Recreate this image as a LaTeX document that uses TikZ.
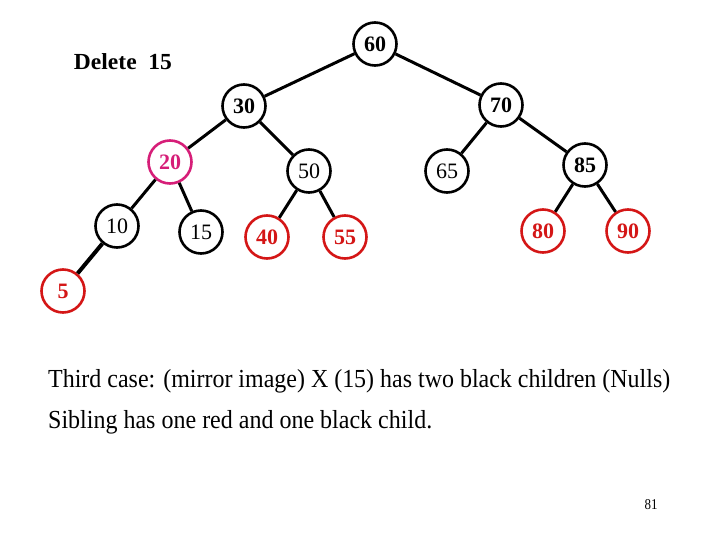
\documentclass[tikz,border=0pt]{standalone}
\usepackage{fontspec}
\setmainfont{Liberation Serif}
\definecolor{nodered}{RGB}{212,22,22}
\definecolor{nodemag}{RGB}{214,30,120}
\begin{document}
\begin{tikzpicture}[x=1pt,y=-1pt,
  tn/.style={circle,draw=black,line width=2.6pt,minimum size=43pt,inner sep=0pt,
    font=\fontsize{22}{22}\selectfont\bfseries,text=black},
  tnr/.style={tn,font=\fontsize{22}{22}\selectfont},
  rn/.style={tn,draw=nodered,text=nodered},
  mn/.style={tn,draw=nodemag,text=nodemag},
  edge/.style={line width=3pt,black},
  txt/.style={font=\fontsize{26}{26}\selectfont,anchor=west,inner sep=0pt}]
\useasboundingbox (0,0) rectangle (720,540);
\node[tn] (n60) at (375,44) {60};
\node[tn] (n30) at (244,106) {30};
\node[tn] (n70) at (501,105) {70};
\node[mn] (n20) at (170,162) {20};
\node[tnr] (n50) at (309,171) {50};
\node[tnr] (n65) at (447,171) {65};
\node[tn] (n85) at (585,165) {85};
\node[tnr] (n10) at (117,226) {10};
\node[tnr] (n15) at (201,232) {15};
\node[rn] (n40) at (267,237) {40};
\node[rn] (n55) at (345,237) {55};
\node[rn] (n80) at (543,231) {80};
\node[rn] (n90) at (628,231) {90};
\node[rn] (n5) at (63,291) {5};
\draw[edge] (n60) -- (n30);
\draw[edge] (n60) -- (n70);
\draw[edge] (n30) -- (n20);
\draw[edge] (n30) -- (n50);
\draw[edge] (n70) -- (n65);
\draw[edge] (n70) -- (n85);
\draw[edge] (n20) -- (n10);
\draw[edge] (n20) -- (n15);
\draw[edge] (n50) -- (n40);
\draw[edge] (n50) -- (n55);
\draw[edge] (n85) -- (n80);
\draw[edge] (n85) -- (n90);
\draw[edge,line width=4pt] (n10) -- (n5);
\node[font=\fontsize{23}{23}\selectfont\bfseries,inner sep=0pt] (title) at (123,62) {\resizebox{98pt}{\height}{Delete\ \ 15}};
\node[txt] (l1) at (48,381) {\resizebox{622pt}{\height}{Third case: (mirror image) X (15) has two black children (Nulls)}};
\node[txt] (l2) at (48,422) {\resizebox{384pt}{\height}{Sibling has one red and one black child.}};
\node[font=\fontsize{15}{15}\selectfont,inner sep=0pt] (pg) at (651,505) {\resizebox{13pt}{\height}{81}};
\end{tikzpicture}
\end{document}
